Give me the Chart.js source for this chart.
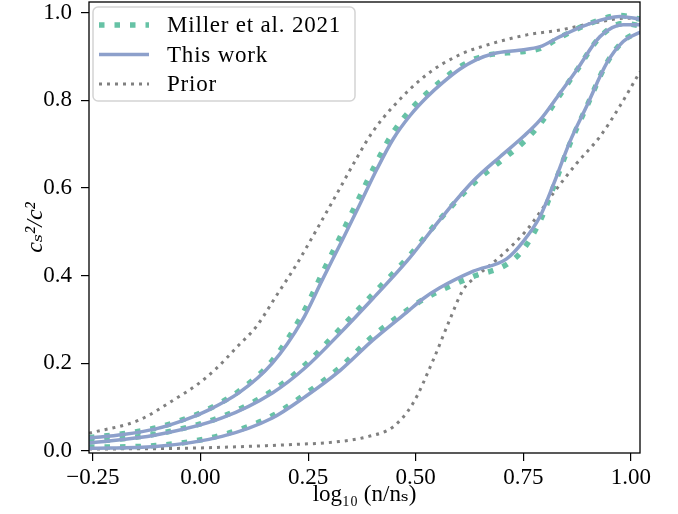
<!DOCTYPE html>
<html>
<head>
<meta charset="utf-8">
<script src="https://cdn.jsdelivr.net/npm/chart.js@4.4.1/dist/chart.umd.min.js"></script>
<style>
  html, body { margin: 0; padding: 0; background: #ffffff; }
  #wrap { width: 678px; height: 514px; }
</style>
</head>
<body>
<div id="wrap"><canvas id="c" width="678" height="514"></canvas></div>
<script>
// ---- Data ----
const xTicks = [-0.25, 0.0, 0.25, 0.50, 0.75, 1.00];
const yTicks = [0.0, 0.2, 0.4, 0.6, 0.8, 1.0];
const legendLabels = ['Miller et al. 2021', 'This work', 'Prior'];

const upperX = [-0.259, -0.180, -0.104, -0.030, 0.012, 0.089, 0.167, 0.236, 0.283, 0.329, 0.370, 0.410, 0.448, 0.487, 0.525, 0.564, 0.603, 0.640, 0.680, 0.740, 0.789, 0.835, 0.897, 0.974, 1.021];
const thisWorkUpper = [0.029, 0.037, 0.050, 0.073, 0.090, 0.132, 0.200, 0.297, 0.390, 0.480, 0.562, 0.643, 0.712, 0.765, 0.806, 0.841, 0.871, 0.892, 0.906, 0.914, 0.922, 0.945, 0.972, 0.991, 0.985];
const millerUpper   = [0.030, 0.039, 0.052, 0.075, 0.092, 0.136, 0.206, 0.310, 0.405, 0.497, 0.580, 0.660, 0.727, 0.777, 0.815, 0.848, 0.876, 0.895, 0.905, 0.910, 0.918, 0.943, 0.972, 0.993, 0.985];

const medianX = [-0.259, -0.104, 0.050, 0.167, 0.244, 0.324, 0.401, 0.479, 0.556, 0.634, 0.696, 0.750, 0.789, 0.835, 0.874, 0.928, 0.982, 1.021];
const thisWorkMedian = [0.018, 0.036, 0.075, 0.132, 0.190, 0.268, 0.348, 0.432, 0.527, 0.616, 0.671, 0.717, 0.755, 0.816, 0.869, 0.945, 0.972, 0.972];
const millerMedian   = [0.020, 0.038, 0.078, 0.137, 0.197, 0.278, 0.358, 0.438, 0.528, 0.610, 0.660, 0.704, 0.746, 0.812, 0.868, 0.944, 0.975, 0.970];

const lowerX = [-0.259, -0.104, 0.050, 0.167, 0.244, 0.324, 0.401, 0.479, 0.517, 0.556, 0.634, 0.711, 0.750, 0.789, 0.820, 0.858, 0.897, 0.944, 0.982, 1.021];
const thisWorkLower = [0.006, 0.010, 0.033, 0.075, 0.124, 0.183, 0.253, 0.316, 0.347, 0.372, 0.410, 0.438, 0.478, 0.535, 0.608, 0.705, 0.786, 0.885, 0.934, 0.955];
const millerLower   = [0.008, 0.012, 0.036, 0.080, 0.130, 0.190, 0.262, 0.320, 0.345, 0.365, 0.398, 0.425, 0.460, 0.525, 0.602, 0.700, 0.785, 0.885, 0.935, 0.957];

const priorUpperX = [-0.259, -0.143, -0.056, -0.009, 0.037, 0.084, 0.130, 0.177, 0.223, 0.270, 0.316, 0.363, 0.400, 0.448, 0.525, 0.603, 0.680, 0.758, 0.835, 0.912, 0.990, 1.021];
const priorUpper  = [0.040, 0.070, 0.120, 0.150, 0.188, 0.236, 0.284, 0.355, 0.425, 0.505, 0.585, 0.668, 0.728, 0.786, 0.858, 0.904, 0.930, 0.949, 0.960, 0.976, 0.987, 0.985];

const priorLowerX = [-0.259, -0.027, 0.205, 0.322, 0.391, 0.448, 0.494, 0.541, 0.579, 0.610, 0.641, 0.696, 0.758, 0.820, 0.874, 0.928, 0.974, 1.021];
const priorLower  = [0.004, 0.006, 0.014, 0.021, 0.033, 0.055, 0.109, 0.208, 0.299, 0.367, 0.398, 0.443, 0.504, 0.588, 0.656, 0.717, 0.786, 0.865];

// ---- Styles ----
const GREEN = '#66c2a5', BLUE = '#8da0cb', GREY = '#808080';
const SERIF = "'Liberation Serif', 'DejaVu Serif', serif";
const styleMiller = { borderColor: GREEN, borderWidth: 5.5, borderDash: [5.5, 10], borderCapStyle: 'butt', order: 1 };
const styleThis   = { borderColor: BLUE,  borderWidth: 3.5, borderDash: [], borderCapStyle: 'round', order: 0 };
const stylePrior  = { borderColor: GREY,  borderWidth: 3,   borderDash: [3, 5], borderCapStyle: 'butt', order: 2 };

function pts(xs, ys) { return xs.map((x, i) => ({ x: x, y: ys[i] })); }
function ds(label, xs, ys, style, showInLegend) {
  return Object.assign({
    label: label, data: pts(xs, ys), fill: false, pointRadius: 0,
    cubicInterpolationMode: 'monotone', legendEntry: showInLegend
  }, style);
}

const datasets = [
  ds(legendLabels[0], upperX, millerUpper, styleMiller, true),
  ds(legendLabels[0], medianX, millerMedian, styleMiller, false),
  ds(legendLabels[0], lowerX, millerLower, styleMiller, false),
  ds(legendLabels[1], upperX, thisWorkUpper, styleThis, true),
  ds(legendLabels[1], medianX, thisWorkMedian, styleThis, false),
  ds(legendLabels[1], lowerX, thisWorkLower, styleThis, false),
  ds(legendLabels[2], priorUpperX, priorUpper, stylePrior, true),
  ds(legendLabels[2], priorLowerX, priorLower, stylePrior, false)
];

// frame (all four spines)
const framePlugin = {
  id: 'frame',
  afterDatasetsDraw(chart) {
    const { ctx, chartArea: a } = chart;
    ctx.save();
    ctx.strokeStyle = '#000';
    ctx.lineWidth = 1.3;
    ctx.strokeRect(a.left, a.top, a.right - a.left, a.bottom - a.top);
    ctx.restore();
  }
};

// matplotlib-like legend in the upper-left corner
const legendPlugin = {
  id: 'mplLegend',
  afterDraw(chart) {
    const { ctx, chartArea: a } = chart;
    const entries = chart.data.datasets.filter(d => d.legendEntry);
    const bx = a.left + 4, by = a.top + 5, bw = 262, bh = 94, r = 5;
    ctx.save();
    ctx.beginPath();
    ctx.moveTo(bx + r, by);
    ctx.arcTo(bx + bw, by, bx + bw, by + bh, r);
    ctx.arcTo(bx + bw, by + bh, bx, by + bh, r);
    ctx.arcTo(bx, by + bh, bx, by, r);
    ctx.arcTo(bx, by, bx + bw, by, r);
    ctx.closePath();
    ctx.fillStyle = 'rgba(255,255,255,0.8)';
    ctx.fill();
    ctx.strokeStyle = '#d4d4d4';
    ctx.lineWidth = 1.5;
    ctx.stroke();
    ctx.font = '23px ' + SERIF;
    try { ctx.letterSpacing = '0.8px'; } catch (e) {}
    ctx.textBaseline = 'middle';
    ctx.fillStyle = '#000';
    entries.forEach((d, i) => {
      const y = by + 18 + i * 29.5;
      ctx.beginPath();
      ctx.strokeStyle = d.borderColor;
      ctx.lineWidth = d.borderWidth;
      ctx.setLineDash(d.borderDash || []);
      ctx.lineCap = 'butt';
      ctx.moveTo(bx + 6, y);
      ctx.lineTo(bx + 56, y);
      ctx.stroke();
      ctx.setLineDash([]);
      ctx.fillText(d.label, bx + 74, y + 1);
    });
    ctx.restore();
  }
};

new Chart(document.getElementById('c'), {
  type: 'line',
  data: { datasets: datasets },
  options: {
    responsive: false,
    animation: false,
    layout: { padding: { left: 0, top: 2, right: 38, bottom: 0 } },
    plugins: { legend: { display: false }, tooltip: { enabled: false } },
    scales: {
      x: {
        type: 'linear', min: -0.259, max: 1.021,
        afterBuildTicks: s => { s.ticks = xTicks.map(v => ({ value: v })); },
        afterFit: s => { s.height = 61; s.paddingLeft = 0; s.paddingRight = 0; },
        grid: { display: true, drawOnChartArea: false, drawTicks: true, tickLength: 8, color: '#000', lineWidth: 1.2 },
        border: { display: false },
        ticks: {
          color: '#000', padding: 3, maxRotation: 0, autoSkip: false,
          font: { family: SERIF, size: 23 },
          callback: v => (v < 0 ? '\u2212' : '') + Math.abs(v).toFixed(2)
        },
        title: { display: true, text: 'log\u2081\u2080 (n/n\u209B)', color: '#000',
                 font: { family: SERIF, size: 23 }, padding: { top: 0, bottom: 5 } }
      },
      y: {
        type: 'linear', min: -0.005, max: 1.024,
        afterBuildTicks: s => { s.ticks = yTicks.map(v => ({ value: v })); },
        afterFit: s => { s.width = 89; s.paddingTop = 0; s.paddingBottom = 0; },
        grid: { display: true, drawOnChartArea: false, drawTicks: true, tickLength: 8, color: '#000', lineWidth: 1.2 },
        border: { display: false },
        ticks: {
          color: '#000', padding: 9, autoSkip: false,
          font: { family: SERIF, size: 23 },
          callback: v => v.toFixed(1)
        },
        title: { display: true, text: 'c\u209B\u00B2/c\u00B2', color: '#000',
                 font: { family: SERIF, size: 24, style: 'italic' }, padding: { top: 21, bottom: 0 } }
      }
    }
  },
  plugins: [framePlugin, legendPlugin]
});
</script>
</body>
</html>
